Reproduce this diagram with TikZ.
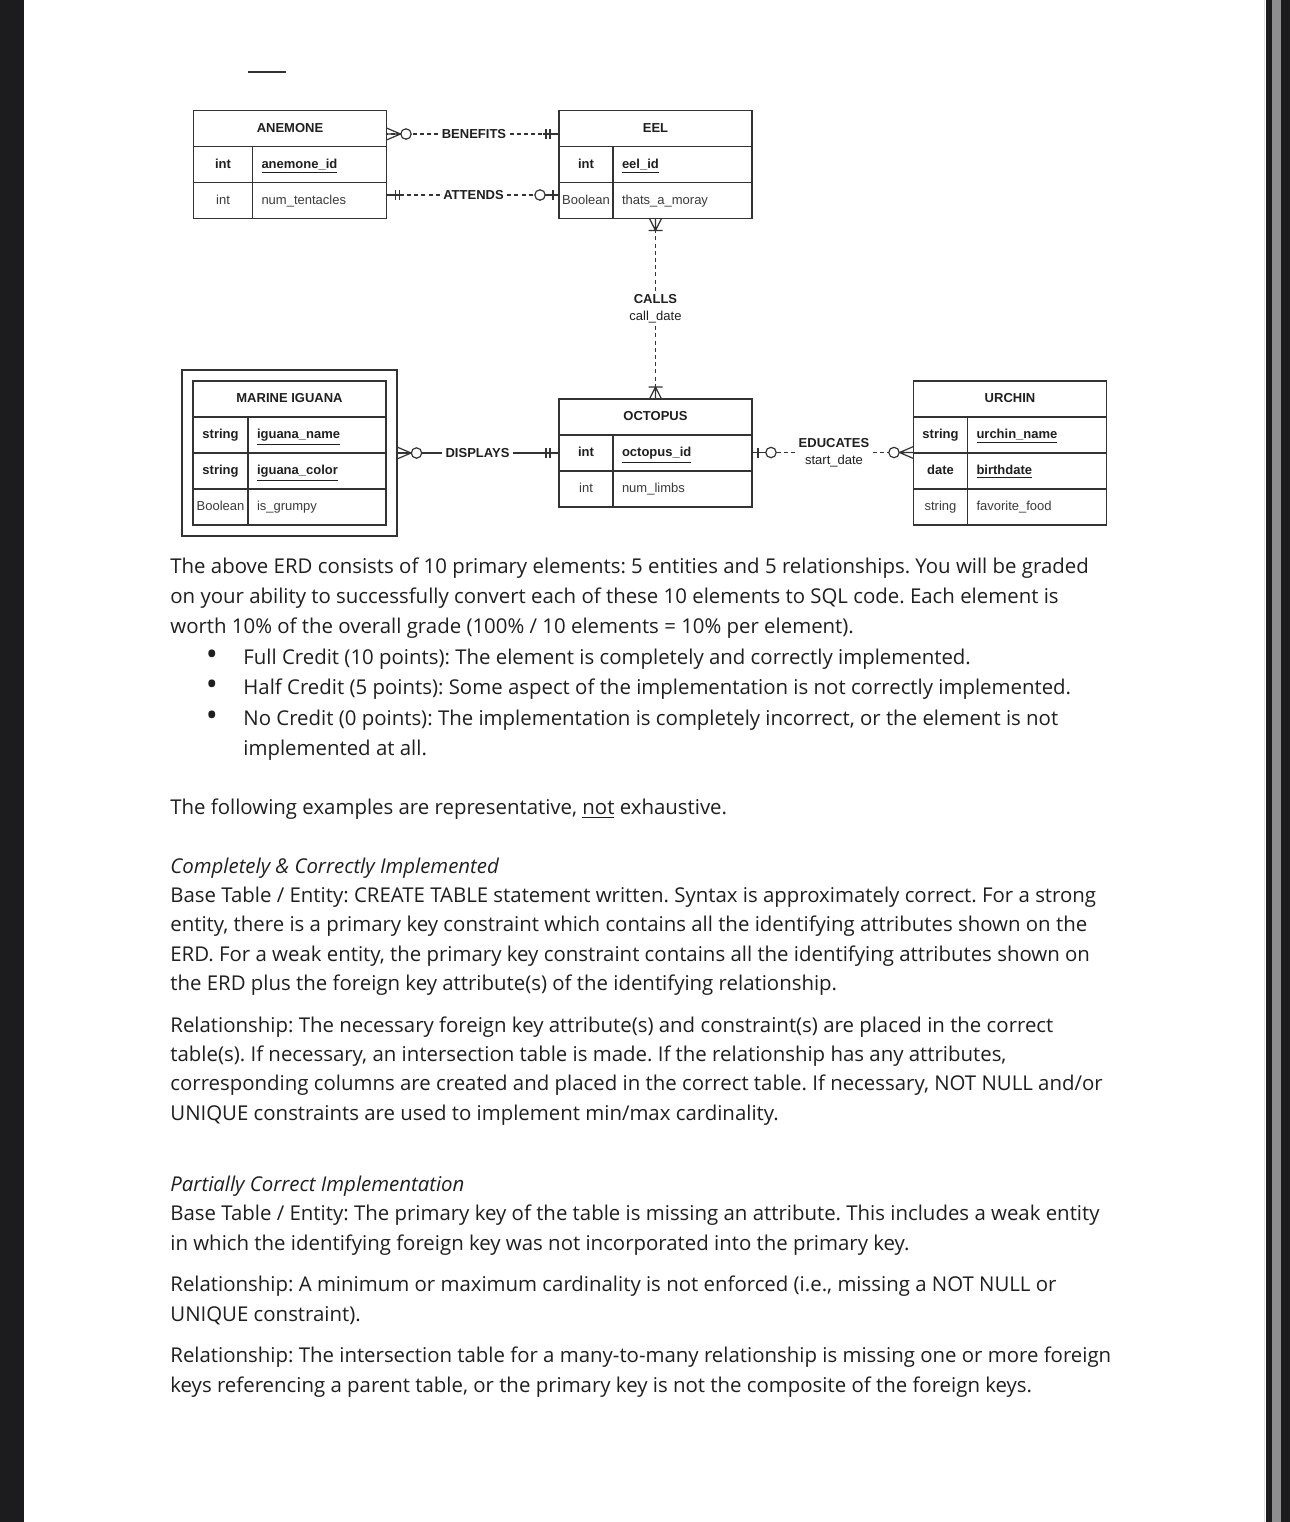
\documentclass[tikz,border=0pt]{standalone}
\usepackage{fontspec}
\setmainfont{Open Sans}
\newfontfamily\erdfont{Liberation Sans}
\usetikzlibrary{positioning, fit, calc}
\usepackage{xcolor}
\definecolor{ink}{HTML}{1F1F1F}
\definecolor{erdline}{HTML}{333333}
\definecolor{erdtext}{HTML}{3A3A3A}
\definecolor{frame}{HTML}{1C1C1E}
\definecolor{framegray}{HTML}{8E8E8E}
\frenchspacing

\tikzset{
    pics/zeromany/.style={code={
        \draw[erdline, line width=0.6pt] (0,-6) -- (14,0) -- (0,6) (0,0) -- (14,0);
        \draw[erdline, line width=0.6pt, fill=white] (19.5,0) circle[radius=2.6pt];
    }},
    pics/onlyone/.style={code={
        \draw[erdline, line width=0.6pt] (0,0) -- (16,0) (9,-5) -- (9,5) (13,-5) -- (13,5);
    }},
    pics/zeroone/.style={code={
        \draw[erdline, line width=0.6pt] (0,0) -- (14,0) (6,-5) -- (6,5);
        \draw[erdline, line width=0.6pt, fill=white] (19,0) circle[radius=2.6pt];
    }},
    pics/onemany/.style={code={
        \draw[erdline, line width=0.6pt] (0,-6) -- (12,0) -- (0,6) (0,0) -- (12,0) (12,-7) -- (12,7);
    }}
}

\begin{document}
\begin{tikzpicture}[
    x=0.5pt, y=-0.5pt,
    ent/.style={draw=erdline, line width=0.7pt, outer sep=0pt, inner sep=0pt,
                minimum width=96.5pt, minimum height=18pt, text=ink,
                text height=4.8pt, text depth=1.3pt,
                font=\erdfont\fontsize{6.5}{8}\selectfont\bfseries},
    typ/.style={draw=erdline, line width=0.7pt, outer sep=0pt, inner sep=0pt,
                anchor=north west, minimum width=#1, minimum height=18pt, text=erdtext,
                text height=4.8pt, text depth=1.3pt,
                font=\erdfont\fontsize{6.5}{8}\selectfont},
    attr/.style={draw=erdline, line width=0.7pt, outer sep=0pt, inner xsep=4.5pt, inner ysep=0pt,
                anchor=north west, text width=#1, align=left, minimum height=18pt, text=erdtext,
                text height=4.8pt, text depth=1.3pt,
                font=\erdfont\fontsize{6.5}{8}\selectfont},
    pk/.style={text=ink, font=\erdfont\fontsize{6.5}{8}\selectfont\bfseries},
    lbl/.style={inner sep=1.5pt, align=center, text=ink,
                font=\erdfont\fontsize{6.5}{8.5}\selectfont},
    rel/.style={draw=erdline, line width=0.6pt, dash pattern=on 2pt off 1.6pt},
    relsolid/.style={draw=erdline, line width=0.6pt},
    body/.style={anchor=base west, inner sep=0pt, text=ink, font=\fontsize{10.2}{12}\selectfont},
    bul/.style={anchor=base, inner sep=0pt, text=ink, font=\fontsize{16}{16}\selectfont}
]
    \useasboundingbox (0,0) rectangle (1290,1522);
    \fill[white] (0,0) rectangle (1290,1522);
    \fill[frame] (0,0) rectangle (24,1522);
    \draw[black!12, line width=0.5pt] (1264,0) -- (1264,1522);
    \fill[frame] (1266,0) rectangle (1290,1522);
    \fill[framegray] (1272,0) rectangle (1281,1522);
    \draw[erdline, line width=1pt] (248,72) -- (286,72);

    % entities
    \node[ent] (anem) at (290,128.5) {ANEMONE};
    \node[typ=29.5pt, pk] (anem-t1) at (anem.south west) {int};
    \node[attr=58pt, pk] (anem-a1) at (anem-t1.north east) {\underline{anemone\_id}};
    \node[typ=29.5pt] (anem-t2) at (anem-t1.south west) {int};
    \node[attr=58pt] (anem-a2) at (anem-t2.north east) {num\_tentacles};

    \node[ent] (eel) at (655.5,128.5) {EEL};
    \node[typ=27pt, pk] (eel-t1) at (eel.south west) {int};
    \node[attr=60.5pt, pk] (eel-a1) at (eel-t1.north east) {\underline{eel\_id}};
    \node[typ=27pt] (eel-t2) at (eel-t1.south west) {Boolean};
    \node[attr=60.5pt] (eel-a2) at (eel-t2.north east) {thats\_a\_moray};

    \node[ent] (igua) at (289.5,399) {MARINE IGUANA};
    \node[typ=27.5pt, pk] (igua-t1) at (igua.south west) {string};
    \node[attr=60pt, pk] (igua-a1) at (igua-t1.north east) {\underline{iguana\_name}};
    \node[typ=27.5pt, pk] (igua-t2) at (igua-t1.south west) {string};
    \node[attr=60pt, pk] (igua-a2) at (igua-t2.north east) {\underline{iguana\_color}};
    \node[typ=27.5pt] (igua-t3) at (igua-t2.south west) {Boolean};
    \node[attr=60pt] (igua-a3) at (igua-t3.north east) {is\_grumpy};
    \node[draw=erdline, line width=0.7pt, inner sep=5.5pt, outer sep=0pt, fit=(igua)(igua-a3)] (igua-box) {};

    \node[ent] (octo) at (655.5,417) {OCTOPUS};
    \node[typ=27pt, pk] (octo-t1) at (octo.south west) {int};
    \node[attr=60.5pt, pk] (octo-a1) at (octo-t1.north east) {\underline{octopus\_id}};
    \node[typ=27pt] (octo-t2) at (octo-t1.south west) {int};
    \node[attr=60.5pt] (octo-a2) at (octo-t2.north east) {num\_limbs};

    \node[ent] (urch) at (1010,399) {URCHIN};
    \node[typ=27pt, pk] (urch-t1) at (urch.south west) {string};
    \node[attr=60.5pt, pk] (urch-a1) at (urch-t1.north east) {\underline{urchin\_name}};
    \node[typ=27pt, pk] (urch-t2) at (urch-t1.south west) {date};
    \node[attr=60.5pt, pk] (urch-a2) at (urch-t2.north east) {\underline{birthdate}};
    \node[typ=27pt] (urch-t3) at (urch-t2.south west) {string};
    \node[attr=60.5pt] (urch-a3) at (urch-t3.north east) {favorite\_food};

    % relationships
    \node[lbl] (benefits) at (474,134) {\textbf{BENEFITS}};
    \node[lbl] (attends) at (473.5,195) {\textbf{ATTENDS}};
    \node[lbl] (calls) at (655.5,308.5) {\textbf{CALLS}\\call\_date};
    \node[lbl] (displays) at (477.5,453) {\textbf{DISPLAYS}};
    \node[lbl] (educates) at (834,452.5) {\textbf{EDUCATES}\\start\_date};

    \draw[rel] (benefits.west) -- (benefits.west -| anem.east);
    \draw[rel] (benefits.east) -- (benefits.east -| eel.west);
    \pic at (benefits.west -| anem.east) {zeromany};
    \pic[rotate=180] at (benefits.east -| eel.west) {onlyone};

    \draw[rel] (attends.west) -- (attends.west -| anem-a2.east);
    \draw[rel] (attends.east) -- (attends.east -| eel-t2.west);
    \pic at (attends.west -| anem-a2.east) {onlyone};
    \pic[rotate=180] at (attends.east -| eel-t2.west) {zeroone};

    \draw[rel] (calls.north) -- (calls.north |- eel-a2.south);
    \draw[rel] (calls.south) -- (calls.south |- octo.north);
    \pic[rotate=-90] at (calls.north |- eel-a2.south) {onemany};
    \pic[rotate=90] at (calls.south |- octo.north) {onemany};

    \draw[relsolid] (displays.west) -- (displays.west -| igua-box.east);
    \draw[relsolid] (displays.east) -- (displays.east -| octo-t1.west);
    \pic at (displays.west -| igua-box.east) {zeromany};
    \pic[rotate=180] at (displays.east -| octo-t1.west) {onlyone};

    \draw[rel] (educates.west) -- (educates.west -| octo-a1.east);
    \draw[rel] (educates.east) -- (educates.east -| urch-t1.west);
    \pic at (educates.west -| octo-a1.east) {zeroone};
    \pic[rotate=180] at (educates.east -| urch-t1.west) {zeromany};

    % text below
    \node[body] (p1a) at (170,573) {The above ERD consists of 10 primary elements: 5 entities and 5 relationships. You will be graded};
    \node[body] (p1b) at (170,603) {on your ability to successfully convert each of these 10 elements to SQL code. Each element is};
    \node[body] (p1c) at (170,633) {worth 10\% of the overall grade (100\% / 10 elements = 10\% per element).};
    \node[bul] (d1) at (212,665) {\textbullet};
    \node[body] (b1) at (243,664) {Full Credit (10 points): The element is completely and correctly implemented.};
    \node[bul] (d2) at (212,695) {\textbullet};
    \node[body] (b2) at (243,694) {Half Credit (5 points): Some aspect of the implementation is not correctly implemented.};
    \node[bul] (d3) at (212,726) {\textbullet};
    \node[body] (b3) at (243,725) {No Credit (0 points): The implementation is completely incorrect, or the element is not};
    \node[body] (b3b) at (243,755) {implemented at all.};
    \node[body] (ex) at (170,814) {The following examples are representative, \underline{not} exhaustive.};

    \node[body, font=\fontsize{10.2}{12}\selectfont\itshape] (h1) at (170,873) {Completely \& Correctly Implemented};
    \node[body] (c1) at (170,902) {Base Table / Entity: CREATE TABLE statement written. Syntax is approximately correct. For a strong};
    \node[body] (c2) at (170,931) {entity, there is a primary key constraint which contains all the identifying attributes shown on the};
    \node[body] (c3) at (170,961) {ERD. For a weak entity, the primary key constraint contains all the identifying attributes shown on};
    \node[body] (c4) at (170,990) {the ERD plus the foreign key attribute(s) of the identifying relationship.};
    \node[body] (r1) at (170,1032) {Relationship: The necessary foreign key attribute(s) and constraint(s) are placed in the correct};
    \node[body] (r2) at (170,1061) {table(s). If necessary, an intersection table is made. If the relationship has any attributes,};
    \node[body] (r3) at (170,1090) {corresponding columns are created and placed in the correct table. If necessary, NOT NULL and/or};
    \node[body] (r4) at (170,1120) {UNIQUE constraints are used to implement min/max cardinality.};

    \node[body, font=\fontsize{10.2}{12}\selectfont\itshape] (h2) at (170,1191) {Partially Correct Implementation};
    \node[body] (s1) at (170,1220) {Base Table / Entity: The primary key of the table is missing an attribute. This includes a weak entity};
    \node[body] (s2) at (170,1250) {in which the identifying foreign key was not incorporated into the primary key.};
    \node[body] (s3) at (170,1291) {Relationship: A minimum or maximum cardinality is not enforced (i.e., missing a NOT NULL or};
    \node[body] (s4) at (170,1321) {UNIQUE constraint).};
    \node[body] (s5) at (170,1362) {Relationship: The intersection table for a many-to-many relationship is missing one or more foreign};
    \node[body] (s6) at (170,1392) {keys referencing a parent table, or the primary key is not the composite of the foreign keys.};
\end{tikzpicture}
\end{document}
